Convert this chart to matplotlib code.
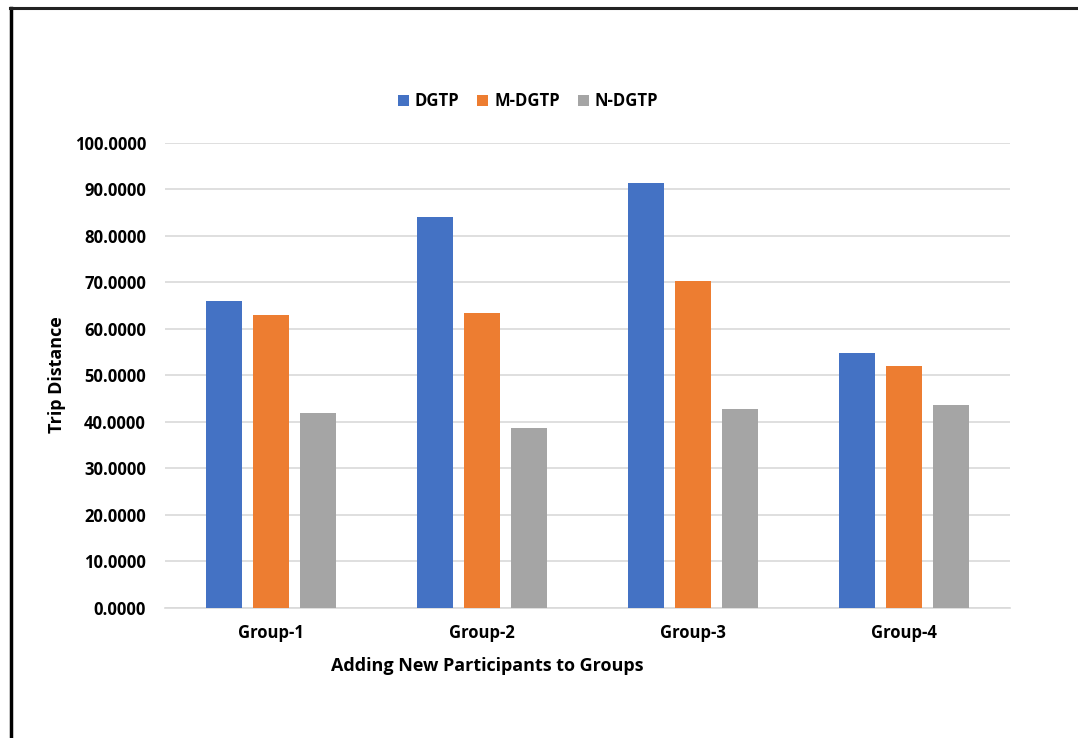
import matplotlib
matplotlib.use("Agg")
import matplotlib.pyplot as plt
from matplotlib.lines import Line2D
import numpy as np

groups = ["Group-1", "Group-2", "Group-3", "Group-4"]
series_names = ["DGTP", "M-DGTP", "N-DGTP"]
dgtp = [66.0, 84.0, 91.3, 54.7]
m_dgtp = [62.9, 63.4, 70.3, 51.9]
n_dgtp = [41.8, 38.7, 42.7, 43.5]
y_ticks = [0, 10, 20, 30, 40, 50, 60, 70, 80, 90, 100]

colors = ["#4472C4", "#ED7D31", "#A5A5A5"]
font = "Open Sans"

fig = plt.figure(figsize=(10.78, 7.38), dpi=100)
ax = fig.add_axes([0.1535, 0.1768, 0.7830, 0.6294])

x = np.arange(len(groups))
width = 0.174
step = 0.2227
for i, (vals, name) in enumerate(zip([dgtp, m_dgtp, n_dgtp], series_names)):
    ax.bar(x + (i - 1) * step, vals, width, color=colors[i], label=name, zorder=3)

ax.set_xlim(-0.5, len(groups) - 0.5)
ax.set_ylim(0, 100)
ax.set_yticks(y_ticks)
ax.set_yticklabels([f"{v:.4f}" for v in y_ticks], fontfamily=font,
                   fontweight="bold", fontsize=12)
ax.set_xticks(x)
ax.set_xticklabels(groups, fontfamily=font, fontweight="bold", fontsize=12)
ax.tick_params(axis="both", length=0)
ax.tick_params(axis="y", pad=14)
ax.tick_params(axis="x", pad=12)

ax.grid(axis="y", color="#D9D9D9", linewidth=1.2, zorder=0)
for s in ["top", "right", "left"]:
    ax.spines[s].set_visible(False)
ax.spines["bottom"].set_color("#D9D9D9")
ax.spines["bottom"].set_linewidth(1.2)

fig.text(487 / 1078, 1 - 666 / 738, "Adding New Participants to Groups",
         ha="center", va="center", fontfamily=font, fontweight="bold",
         fontsize=13)
fig.text(57 / 1078, 1 - 375 / 738, "Trip Distance", ha="center", va="center",
         rotation=90, fontfamily=font, fontweight="bold", fontsize=13)

leg = fig.legend(loc="center", bbox_to_anchor=(528 / 1078, 1 - 101 / 738),
                 ncol=3, frameon=False, handlelength=0.65, handleheight=0.65,
                 handletextpad=0.35, columnspacing=1.1,
                 prop={"family": font, "weight": "bold", "size": 12})

# frame lines on the left and top edges
fig.add_artist(Line2D([10.5 / 1078, 10.5 / 1078], [0, 1 - 8 / 738],
                      transform=fig.transFigure, color="black", linewidth=2.5))
fig.add_artist(Line2D([10 / 1078, 1], [1 - 8 / 738, 1 - 8 / 738],
                      transform=fig.transFigure, color="#222222", linewidth=2.2))

fig.savefig("out.png", dpi=100)
